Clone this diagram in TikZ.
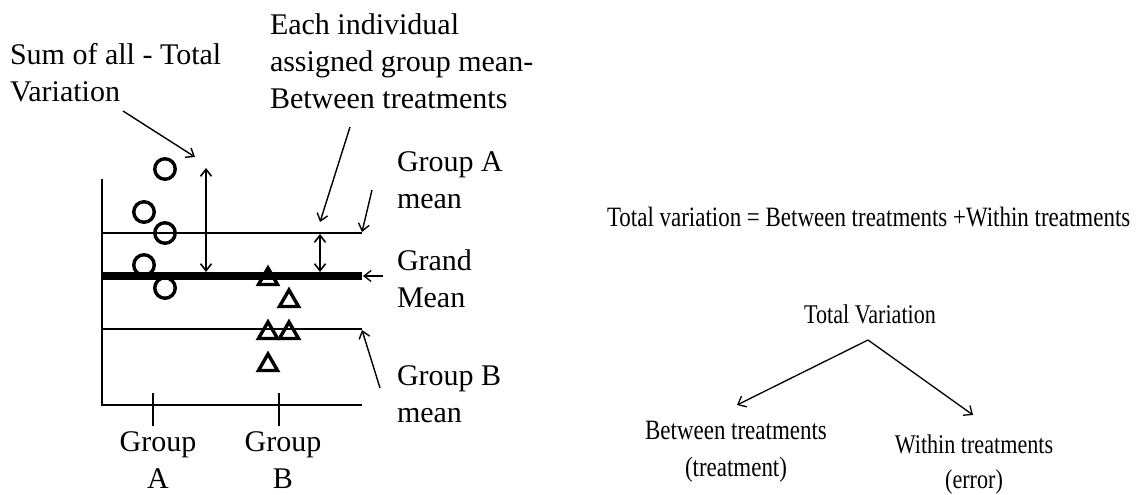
\documentclass[tikz,border=0pt]{standalone}
\usepackage{fontspec}
\setmainfont{Liberation Serif}
\newfontfamily\narrowfont[FakeStretch=0.82]{Liberation Serif}
\usetikzlibrary{arrows.meta,shapes.geometric}
\begin{document}
\begin{tikzpicture}[x=1pt,y=-1pt,
  lbl/.style={inner sep=0pt,outer sep=0pt,font=\fontsize{30}{37}\selectfont,align=left},
  rlbl/.style={inner sep=0pt,outer sep=0pt,align=center},
  thinline/.style={line width=2.2pt},
  circ/.style={circle,draw,line width=3.4pt,minimum size=20.5pt,inner sep=0pt},
  tri/.style={regular polygon,regular polygon sides=3,draw,line width=3.4pt,minimum size=22pt,inner sep=0pt},
  arr/.style={line width=1.4pt,-{Straight Barb[length=7pt,width=11pt]}},
  darr/.style={line width=1.6pt,{Straight Barb[length=7pt,width=11pt]}-{Straight Barb[length=7pt,width=11pt]}},
  tarr/.style={line width=1.3pt,-{Straight Barb[length=7pt,width=12pt]}}
]
\useasboundingbox (0,0) rectangle (1143,495);
% axes
\coordinate (ytop) at (102,179);
\coordinate (orig) at (102,405);
\coordinate (xend) at (362,405);
\draw[thinline] (ytop) -- (orig) -- (xend);
\coordinate (tA1) at (153,393); \coordinate (tA2) at (153,426);
\coordinate (tB1) at (279,393); \coordinate (tB2) at (279,426);
\draw[thinline] (tA1) -- (tA2);
\draw[thinline] (tB1) -- (tB2);
% mean lines
\coordinate (mA1) at (102,233); \coordinate (mA2) at (362,233);
\coordinate (mG1) at (102,276); \coordinate (mG2) at (362,276);
\coordinate (mB1) at (102,329); \coordinate (mB2) at (362,329);
\draw[thinline] (mA1) -- (mA2);
\draw[thinline] (mB1) -- (mB2);
\draw[line width=8.3pt] (mG1) -- (mG2);
% data points
\node[circ] (c1) at (165,169) {};
\node[circ] (c2) at (144,212) {};
\node[circ] (c3) at (165,233) {};
\node[circ] (c4) at (144,265) {};
\node[circ] (c5) at (165,288) {};
\node[tri] (t1) at (268,279) {};
\node[tri] (t2) at (289,301) {};
\node[tri] (t3) at (268,333) {};
\node[tri] (t4) at (289,333) {};
\node[tri] (t5) at (268,365) {};
% double arrows
\coordinate (d1a) at (206,168); \coordinate (d1b) at (206,272);
\coordinate (d2a) at (320,234); \coordinate (d2b) at (320,272);
\draw[darr] (d1a) -- (d1b);
\draw[darr] (d2a) -- (d2b);
% labels
\node[lbl,anchor=north west] (sum) at (10,43) {Sum of all - Total\\Variation};
\node[lbl,anchor=north west] (each) at (270,14) {Each individual\\assigned group mean-\\Between treatments};
\node[lbl,anchor=north west] (gA) at (397,152) {Group A\\mean};
\node[lbl,anchor=north west] (gM) at (397,250) {Grand\\Mean};
\node[lbl,anchor=north west] (gB) at (397,366) {Group B\\mean};
\node[lbl,align=center,anchor=north] (xA) at (158,432) {Group\\A};
\node[lbl,align=center,anchor=north] (xB) at (283,432) {Group\\B};
% pointer arrows
\coordinate (p1a) at (123,111); \coordinate (p1b) at (195,157);
\coordinate (p2a) at (350,127); \coordinate (p2b) at (320,222);
\coordinate (p3a) at (372,190); \coordinate (p3b) at (362,232);
\coordinate (p4a) at (383,276); \coordinate (p4b) at (363,276);
\coordinate (p5a) at (380,388); \coordinate (p5b) at (362,330);
\draw[arr] (p1a) -- (p1b);
\draw[arr] (p2a) -- (p2b);
\draw[arr] (p3a) -- (p3b);
\draw[arr] (p4a) -- (p4b);
\draw[arr] (p5a) -- (p5b);
% right side
\node[rlbl,anchor=base west,font=\narrowfont\fontsize{28}{34}\selectfont] (eq) at (607,226) {Total variation = Between treatments +Within treatments};
\node[rlbl,anchor=base,font=\narrowfont\fontsize{27}{30}\selectfont] (tv) at (870,323) {Total Variation};
\node[rlbl,anchor=north,font=\narrowfont\fontsize{28}{37}\selectfont] (bt) at (736,421) {Between treatments\\(treatment)};
\node[rlbl,anchor=north,font=\narrowfont\fontsize{27}{35}\selectfont] (wt) at (974,435) {Within treatments\\(error)};
\coordinate (apex) at (868,340);
\coordinate (bte) at (737,405);
\coordinate (wte) at (973,415);
\draw[tarr] (apex) -- (bte);
\draw[tarr] (apex) -- (wte);
\end{tikzpicture}
\end{document}
